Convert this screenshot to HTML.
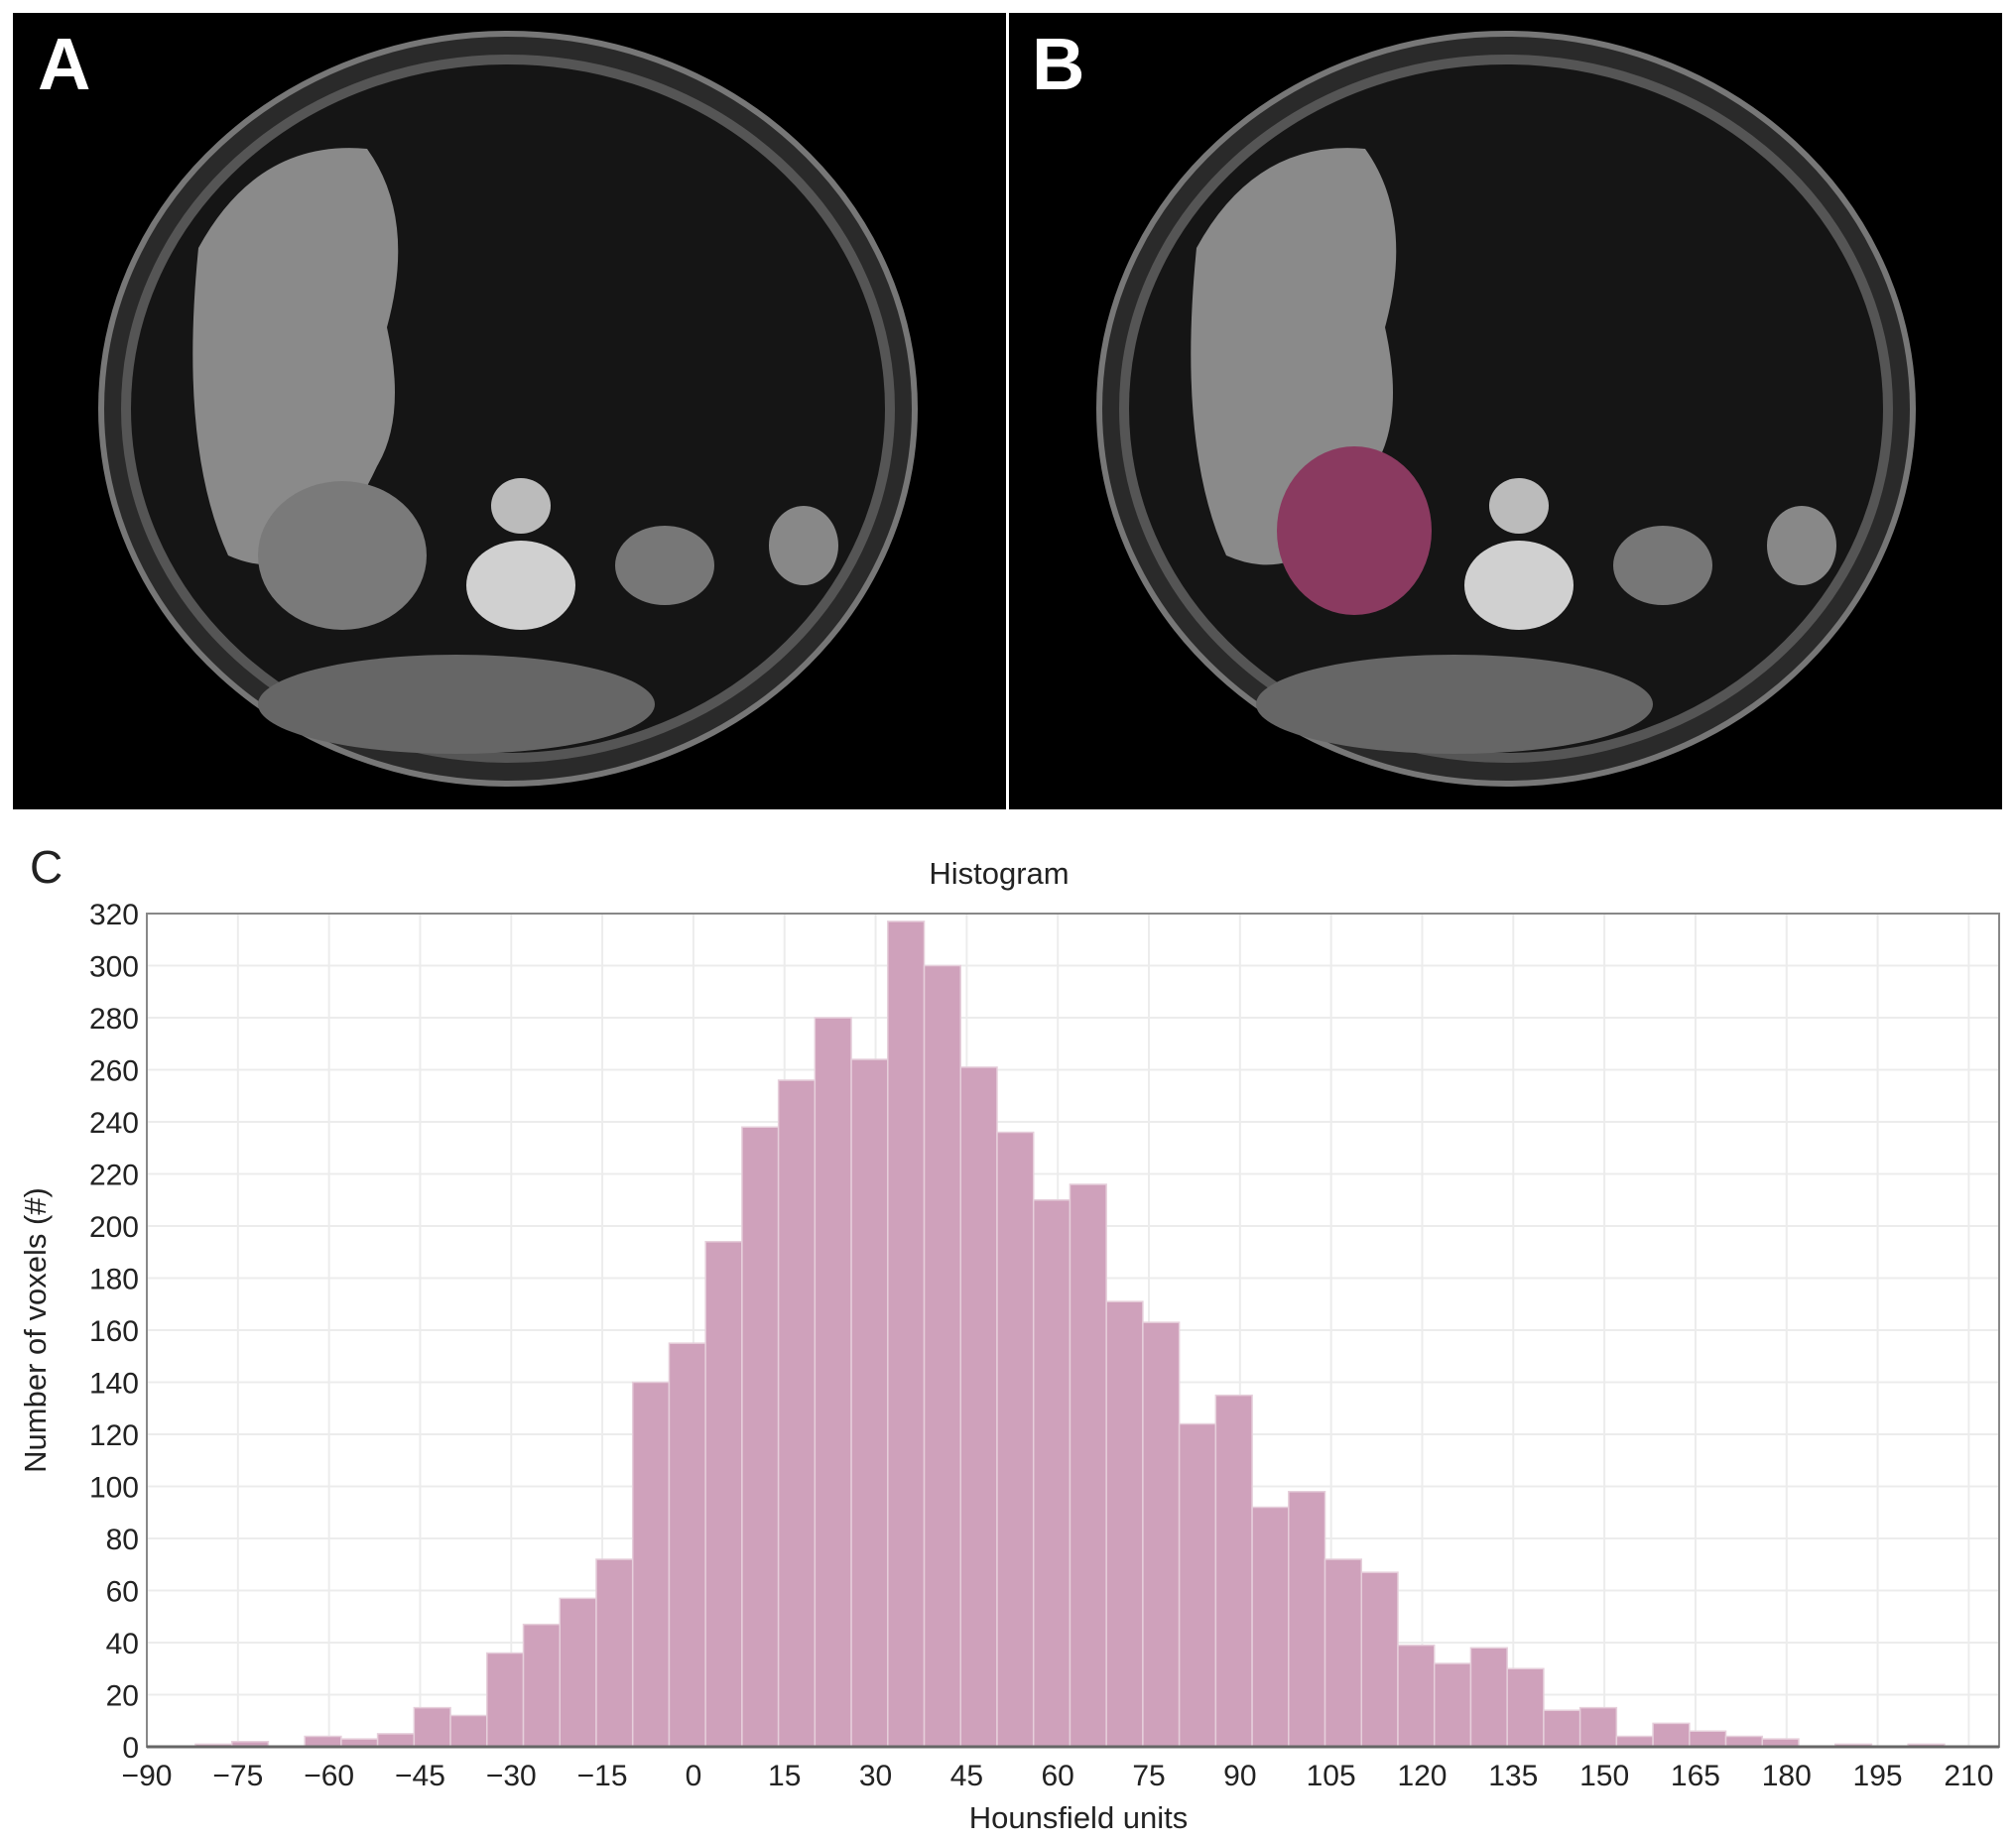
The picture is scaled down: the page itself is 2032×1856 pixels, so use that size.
<!DOCTYPE html>
<html><head><meta charset="utf-8"><style>
html,body{margin:0;padding:0;background:#fff;}
body{width:2032px;height:1856px;position:relative;overflow:hidden;font-family:"Liberation Sans",sans-serif;}
svg{position:absolute;left:0;top:0;}
</style></head><body>
<svg width="2032" height="1856" viewBox="0 0 2032 1856">
  <g>
    <rect x="13" y="13" width="1001" height="803" fill="#000"/>
    <ellipse cx="512" cy="412" rx="410" ry="378" fill="#2a2a2a" stroke="#777" stroke-width="6"/>
    <ellipse cx="512" cy="412" rx="385" ry="352" fill="#151515" stroke="#555" stroke-width="10"/>
    <path d="M200,250 Q260,140 370,150 Q420,220 390,330 Q410,420 380,470 Q320,600 230,560 Q180,450 200,250Z" fill="#8a8a8a"/>
    <ellipse cx="345" cy="560" rx="85" ry="75" fill="#7a7a7a"/>
    <ellipse cx="525" cy="590" rx="55" ry="45" fill="#d0d0d0"/>
    <ellipse cx="525" cy="510" rx="30" ry="28" fill="#bbb"/>
    <ellipse cx="670" cy="570" rx="50" ry="40" fill="#777"/>
    <ellipse cx="810" cy="550" rx="35" ry="40" fill="#888"/>
    <ellipse cx="460" cy="710" rx="200" ry="50" fill="#666"/>
    <text x="38" y="90" font-size="74" font-weight="bold" fill="#fff">A</text>
  </g>
  <g>
    <rect x="1017" y="13" width="1001" height="803" fill="#000"/>
    <ellipse cx="1518" cy="412" rx="410" ry="378" fill="#2a2a2a" stroke="#777" stroke-width="6"/>
    <ellipse cx="1518" cy="412" rx="385" ry="352" fill="#151515" stroke="#555" stroke-width="10"/>
    <path d="M1206,250 Q1266,140 1376,150 Q1426,220 1396,330 Q1416,420 1386,470 Q1326,600 1236,560 Q1186,450 1206,250Z" fill="#8a8a8a"/>
    <ellipse cx="1365" cy="535" rx="78" ry="85" fill="#8a3a60"/>
    <ellipse cx="1531" cy="590" rx="55" ry="45" fill="#d0d0d0"/>
    <ellipse cx="1531" cy="510" rx="30" ry="28" fill="#bbb"/>
    <ellipse cx="1676" cy="570" rx="50" ry="40" fill="#777"/>
    <ellipse cx="1816" cy="550" rx="35" ry="40" fill="#888"/>
    <ellipse cx="1466" cy="710" rx="200" ry="50" fill="#666"/>
    <text x="1040" y="90" font-size="74" font-weight="bold" fill="#fff">B</text>
  </g>
  <text x="30" y="890" font-size="46" fill="#222">C</text>
  <text x="1007" y="891" font-size="31" fill="#222" text-anchor="middle">Histogram</text>
  <g id="grid"></g>
  <g id="bars"></g>
  <g id="axes"></g>
  <text x="1087" y="1843" font-size="31" fill="#222" text-anchor="middle">Hounsfield units</text>
  <text transform="translate(46,1341) rotate(-90)" font-size="31" fill="#222" text-anchor="middle">Number of voxels (#)</text>
</svg>
<script>
const binStart = -88;
const binWidth = 6;
const counts = [0,1,2,0,4,3,5,15,12,36,47,57,72,140,155,194,238,256,280,264,317,300,261,236,210,216,171,163,124,135,92,98,72,67,39,32,38,30,14,15,4,9,6,4,3,0,1,0,1];
const xTicks = [-90,-75,-60,-45,-30,-15,0,15,30,45,60,75,90,105,120,135,150,165,180,195,210];
const yTicks = [0,20,40,60,80,100,120,140,160,180,200,220,240,260,280,300,320];
const X0=148,X1=2015,Y0=1761,Y1=921,XMIN=-90,XMAX=215,YMAX=320;
const NS='http://www.w3.org/2000/svg';
function xs(v){return X0+(v-XMIN)/(XMAX-XMIN)*(X1-X0);}
function ys(v){return Y0-v/YMAX*(Y0-Y1);}
function mk(tag,attrs,parent){const e=document.createElementNS(NS,tag);for(const k in attrs)e.setAttribute(k,attrs[k]);parent.appendChild(e);return e;}
const grid=document.getElementById('grid'),bars=document.getElementById('bars'),axes=document.getElementById('axes');
xTicks.forEach(t=>{
  const l=mk('line',{x1:xs(t),x2:xs(t),y1:Y1,y2:Y0,stroke:'#ececec','stroke-width':2},grid);
  
  
  const tx=mk('text',{x:xs(t),y:1800,'font-size':30,'text-anchor':'middle',fill:'#222'},axes);
  tx.textContent=(t<0?'\u2212'+(-t):String(t));
  
  
});
yTicks.forEach(t=>{
  const l=mk('line',{x1:X0,x2:X1,y1:ys(t),y2:ys(t),stroke:'#ececec','stroke-width':2},grid);
  
  
  const tx=mk('text',{x:140,y:ys(t)+11,'font-size':30,'text-anchor':'end',fill:'#222'},axes);
  tx.textContent=String(t);
  
  
});
counts.forEach((c,i)=>{
  if(c<=0)return;
  const a=binStart+i*binWidth,b=a+binWidth;
  const r=mk('rect',{x:xs(a),y:ys(c),width:xs(b)-xs(a),height:Y0-ys(c),fill:'#cfa1bb',stroke:'#e6cfdb','stroke-width':1.5},bars);
  
  
});
const frame=mk('rect',{x:X0,y:Y1,width:X1-X0,height:Y0-Y1,fill:'none',stroke:'#888','stroke-width':2},axes);


const base=mk('line',{x1:X0,x2:X1,y1:Y0,y2:Y0,stroke:'#666','stroke-width':3},axes);


</script>
</body></html>
